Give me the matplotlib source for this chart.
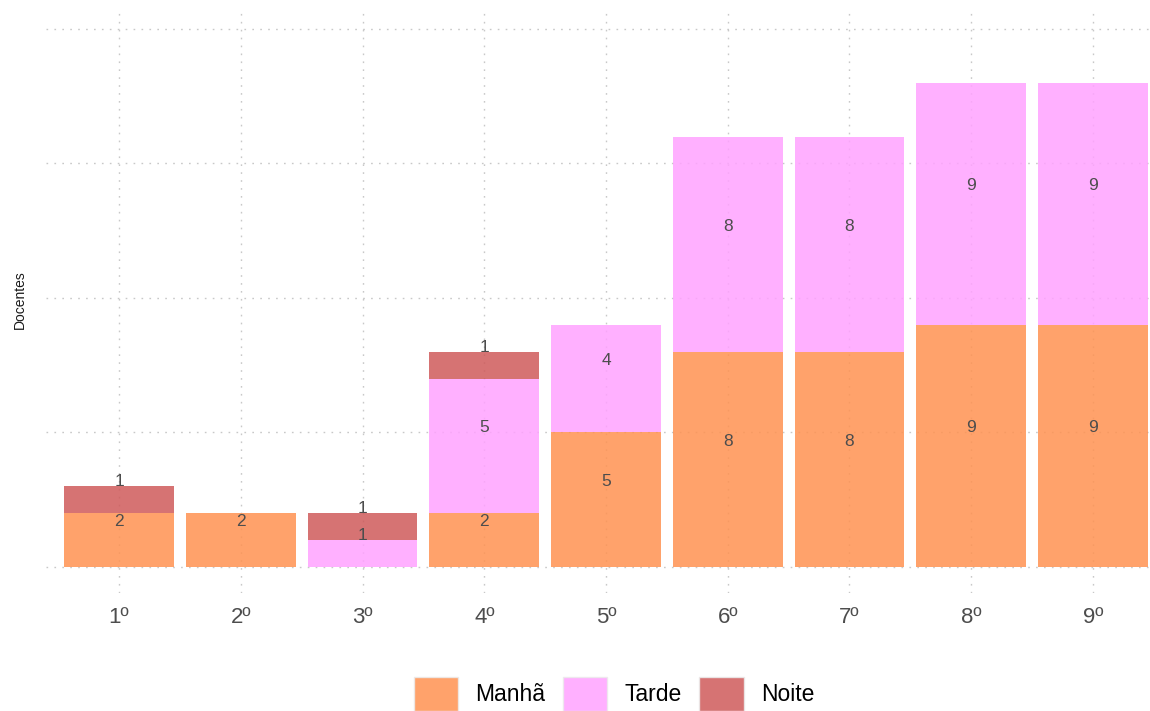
import matplotlib
matplotlib.use("Agg")
import matplotlib.pyplot as plt
from matplotlib.patches import Patch
import numpy as np

categories = ["1º", "2º", "3º", "4º", "5º", "6º", "7º", "8º", "9º"]
manha = [2, 2, 0, 2, 5, 8, 8, 9, 9]
tarde = [0, 0, 1, 5, 4, 8, 8, 9, 9]
noite = [1, 0, 1, 1, 0, 0, 0, 0, 0]
series_names = ["Manhã", "Tarde", "Noite"]
series_colors = ["#FF9251", "#FFA2FF", "#CF5A5A"]

plt.rcParams['font.family'] = ['Liberation Sans', 'DejaVu Sans']

fig = plt.figure(figsize=(11.5, 7.11), dpi=100)
ax = fig.add_axes([46/1150, 1 - 593/711, (1166 - 46)/1150, (593 - 12)/711])

x = np.arange(len(categories))
grid_kw = dict(color="#C8C8C8", linestyle=(0, (1.2, 4.5)), linewidth=1.0, zorder=0)
for yv in [0, 5, 10, 15, 20]:
    ax.axhline(yv, **grid_kw)
for xv in x:
    ax.axvline(xv, **grid_kw)

bottom = np.zeros(len(categories))
for vals, name, col in zip([manha, tarde, noite], series_names, series_colors):
    vals = np.array(vals, dtype=float)
    ax.bar(x, vals, bottom=bottom, width=0.9, color=col, alpha=0.85,
           edgecolor="none", zorder=2)
    for xi, b, v in zip(x, bottom, vals):
        if v > 0:
            ax.text(xi, b + v / 2 + 0.67, f"{int(v)}", ha="center", va="center",
                    fontsize=12.5, color="#4D4D4D", zorder=3)
    bottom += vals

ax.set_xlim(-0.6, 8.6)
ax.set_ylim(-0.97, 20.63)
ax.set_xticks(x)
ax.set_xticklabels(categories, fontsize=16, color="#4D4D4D")
ax.set_yticks([])
ax.tick_params(axis="x", length=0, pad=10)
for s in ax.spines.values():
    s.set_visible(False)

fig.text(20/1150, 1 - 300/711, "Docentes", rotation=90, ha="center", va="center",
         fontsize=10, color="#1A1A1A")

handles = [Patch(facecolor=c, alpha=0.85, edgecolor="#EBEBEB", linewidth=1)
           for c in series_colors]
fig.legend(handles, series_names, ncol=3, loc="center",
           bbox_to_anchor=(614/1150, 1 - 694/711), frameon=False,
           fontsize=16.5, handlelength=1.95, handleheight=1.85,
           handletextpad=0.75, columnspacing=0.75, labelcolor="black")

fig.savefig("out.png", dpi=100)
